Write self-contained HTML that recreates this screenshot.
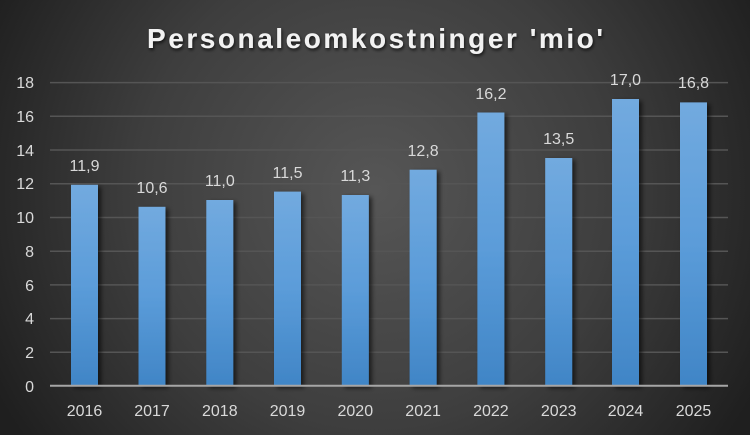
<!DOCTYPE html>
<html><head><meta charset="utf-8"><style>
html,body{margin:0;padding:0;background:#222;}
svg{display:block;}
text{font-family:"Liberation Sans",sans-serif;}
</style></head><body>
<svg width="750" height="435" viewBox="0 0 750 435" xmlns="http://www.w3.org/2000/svg">
<defs>
<radialGradient id="bg" cx="375" cy="190" r="430" gradientUnits="userSpaceOnUse">
<stop offset="0" stop-color="#565656"/>
<stop offset="0.55" stop-color="#3e3e3e"/>
<stop offset="1" stop-color="#1f1f1f"/>
</radialGradient>
<linearGradient id="bar" x1="0" y1="0" x2="0" y2="1">
<stop offset="0" stop-color="#72aadf"/>
<stop offset="0.5" stop-color="#5b9cd9"/>
<stop offset="1" stop-color="#4085c6"/>
</linearGradient>
<filter id="sh" x="-30%" y="-10%" width="170%" height="130%">
<feGaussianBlur in="SourceAlpha" stdDeviation="2.5"/>
<feOffset dx="3" dy="2" result="b"/>
<feComponentTransfer><feFuncA type="linear" slope="0.6"/></feComponentTransfer>
<feMerge><feMergeNode/><feMergeNode in="SourceGraphic"/></feMerge>
</filter>
<filter id="tsh" x="-5%" y="-20%" width="110%" height="140%">
<feGaussianBlur in="SourceAlpha" stdDeviation="1.5"/>
<feOffset dx="1" dy="2"/>
<feComponentTransfer><feFuncA type="linear" slope="0.7"/></feComponentTransfer>
<feMerge><feMergeNode/><feMergeNode in="SourceGraphic"/></feMerge>
</filter>
</defs>
<rect width="750" height="435" fill="url(#bg)"/>
<text x="375" y="48" text-anchor="middle" font-size="28" font-weight="bold" fill="#f2f2f2" textLength="456" lengthAdjust="spacing" filter="url(#tsh)">Personaleomkostninger 'mio'</text>
<g stroke="#555555" stroke-width="1.5">
<line x1="50" x2="728" y1="82.6" y2="82.6"/>
<line x1="50" x2="728" y1="116.3" y2="116.3"/>
<line x1="50" x2="728" y1="150" y2="150"/>
<line x1="50" x2="728" y1="183.8" y2="183.8"/>
<line x1="50" x2="728" y1="217.5" y2="217.5"/>
<line x1="50" x2="728" y1="251.2" y2="251.2"/>
<line x1="50" x2="728" y1="284.9" y2="284.9"/>
<line x1="50" x2="728" y1="318.6" y2="318.6"/>
<line x1="50" x2="728" y1="352.3" y2="352.3"/>
</g>
<g font-size="16" fill="#d9d9d9" text-anchor="end">
<text x="34" y="88">18</text>
<text x="34" y="122">16</text>
<text x="34" y="156">14</text>
<text x="34" y="189">12</text>
<text x="34" y="223">10</text>
<text x="34" y="257">8</text>
<text x="34" y="291">6</text>
<text x="34" y="324">4</text>
<text x="34" y="358">2</text>
<text x="34" y="392">0</text>
</g>
<g fill="url(#bar)" filter="url(#sh)">
<rect x="71" y="184.8" width="27" height="201"/>
<rect x="138.5" y="206.8" width="27" height="179"/>
<rect x="206.3" y="200" width="27" height="186"/>
<rect x="274" y="191.6" width="27" height="194.4"/>
<rect x="341.8" y="195" width="27" height="191"/>
<rect x="409.6" y="169.7" width="27" height="216.3"/>
<rect x="477.4" y="112.5" width="27" height="273.5"/>
<rect x="545.2" y="158" width="27" height="228"/>
<rect x="612" y="99" width="27" height="287"/>
<rect x="680" y="102.4" width="27" height="283.6"/>
</g>
<line x1="50" x2="728" y1="385.8" y2="385.8" stroke="#a6a6a6" stroke-width="2"/>
<g font-size="16" fill="#d9d9d9" text-anchor="middle">
<text x="84.5" y="171">11,9</text>
<text x="152" y="193">10,6</text>
<text x="219.8" y="186">11,0</text>
<text x="287.5" y="178">11,5</text>
<text x="355.3" y="181">11,3</text>
<text x="423.1" y="156">12,8</text>
<text x="490.9" y="99">16,2</text>
<text x="558.7" y="144">13,5</text>
<text x="625.5" y="85">17,0</text>
<text x="693.5" y="88">16,8</text>
</g>
<g font-size="16" fill="#d9d9d9" text-anchor="middle">
<text x="84.5" y="416">2016</text>
<text x="152" y="416">2017</text>
<text x="219.8" y="416">2018</text>
<text x="287.5" y="416">2019</text>
<text x="355.3" y="416">2020</text>
<text x="423.1" y="416">2021</text>
<text x="490.9" y="416">2022</text>
<text x="558.7" y="416">2023</text>
<text x="625.5" y="416">2024</text>
<text x="693.5" y="416">2025</text>
</g>
</svg>
</body></html>
